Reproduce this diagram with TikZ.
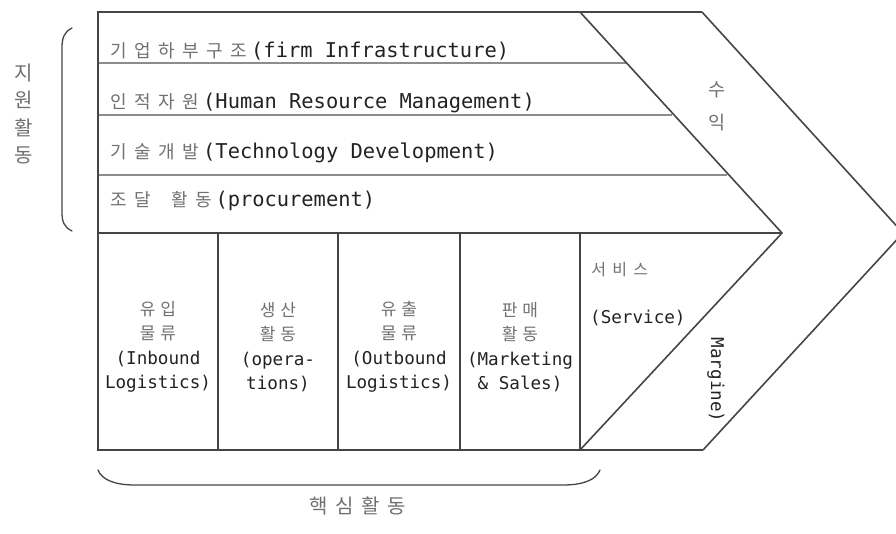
\documentclass[tikz,border=0pt]{standalone}
\usepackage{fontspec}
\setmonofont{DejaVu Sans Mono}
\newfontfamily\krfont{Noto Sans CJK KR}

% Hangul set in fixed-width cells: \kspaced{cell width}{letters}
\newdimen\kcell
\newcommand\kspaced[2]{\kcell=#1\relax\kspacedloop#2\relax}
\def\kspacedloop#1{\ifx\relax#1\else\makebox[\kcell]{#1}\expandafter\kspacedloop\fi}
% \hg{size}{cell}{letters}: grey Hangul run
\newcommand\hg[3]{{\krfont\fontsize{#1}{#1}\selectfont\color{hangul}\kspaced{#2}{#3}}}

\definecolor{frame}{HTML}{454545}
\definecolor{rule}{HTML}{8C8C8C}
\definecolor{latin}{HTML}{222222}
\definecolor{hangul}{HTML}{707070}

\begin{document}
\begin{tikzpicture}[x=1pt,y=-1pt,
  outline/.style={draw=frame,line width=1.6pt,line join=miter},
  divider/.style={draw=rule,line width=2pt},
  rowlabel/.style={anchor=base west,inner sep=0pt,font=\fontsize{20.4}{24}\ttfamily,text=latin},
  cell/.style={align=center,inner sep=0pt,font=\fontsize{17.6}{24.5}\ttfamily,text=latin},
  brace/.style={draw=frame,line width=1.3pt,line cap=round},
]
\clip (0,0) rectangle (896,533);

% key points of the chain
\coordinate (tl) at (98,12);
\coordinate (bl) at (98,450);
\coordinate (itop) at (580,12);
\coordinate (iapex) at (782,233);
\coordinate (ibot) at (580,450);
\coordinate (otop) at (702,12);
\coordinate (oapex) at (903,233);
\coordinate (obot) at (703,450);

% support activity rows
\draw[divider] (98,63) -- (627,63);
\draw[divider] (98,115) -- (672,115);
\draw[divider] (98,175) -- (727,175);

% outline of the value chain
\draw[outline] (otop) -- (tl) -- (bl) -- (obot);
\draw[outline] (otop) -- (oapex) -- (obot);
\draw[outline] (itop) -- (iapex) -- (ibot);
\draw[outline] (98,233) -- (iapex);

% primary activity columns
\draw[outline] (218,233) -- (218,450);
\draw[outline] (338,233) -- (338,450);
\draw[outline] (460,233) -- (460,450);
\draw[outline] (580,233) -- (ibot);

% support activity labels
\node[rowlabel] (firm) at (107,57) {\hg{18}{24pt}{기업하부구조}(firm Infrastructure)};
\node[rowlabel] (hrm) at (107,108.5) {\hg{18}{24pt}{인적자원}(Human Resource Management)};
\node[rowlabel] (tech) at (107,158.5) {\hg{18}{24pt}{기술개발}(Technology Development)};
\node[rowlabel] (proc) at (107,206) {\hg{18}{24pt}{조달}\hspace{12.3pt}\hg{18}{24pt}{활동}(procurement)};

% primary activity labels
\node[cell] (inbound) at (158,347) {\hg{17}{20.5pt}{유입}\\\hg{17}{20.5pt}{물류}\\(Inbound\\Logistics)};
\node[cell] (ops) at (278,347) {\hg{17}{20.5pt}{생산}\\\hg{17}{20.5pt}{활동}\\(opera-\\tions)};
\node[cell] (outbound) at (399,347) {\hg{17}{20.5pt}{유출}\\\hg{17}{20.5pt}{물류}\\(Outbound\\Logistics)};
\node[cell] (sales) at (520,347) {\hg{17}{20.5pt}{판매}\\\hg{17}{20.5pt}{활동}\\(Marketing\\\&~Sales)};

% service and margin
\node[anchor=west,inner sep=0pt] (svc) at (588,270) {\hg{16}{21pt}{서비스}};
\node[cell,anchor=west] (svcen) at (590,318) {(Service)};
\node[cell,rotate=-90] (margin) at (716,380) {Margine)};
\node[align=center,inner sep=0pt,font=\krfont\fontsize{18.5}{33}\selectfont,text=hangul] (profit) at (717,106) {수\\익};

% braces and group titles
\draw[brace] (72,28) .. controls (64,32) and (62,38) .. (62,48) -- (62,212) .. controls (62,222) and (64,227) .. (72,231);
\node[align=center,inner sep=0pt,font=\krfont\fontsize{20}{27.5}\selectfont,text=hangul] (support) at (24,114) {지\\원\\활\\동};

\draw[brace] (98,470) .. controls (102,480) and (115,485) .. (135,485) -- (563,485) .. controls (583,485) and (596,480) .. (600,470);
\node[inner sep=0pt] (primary) at (358,506) {\hg{20}{26pt}{핵심활동}};
\end{tikzpicture}
\end{document}
